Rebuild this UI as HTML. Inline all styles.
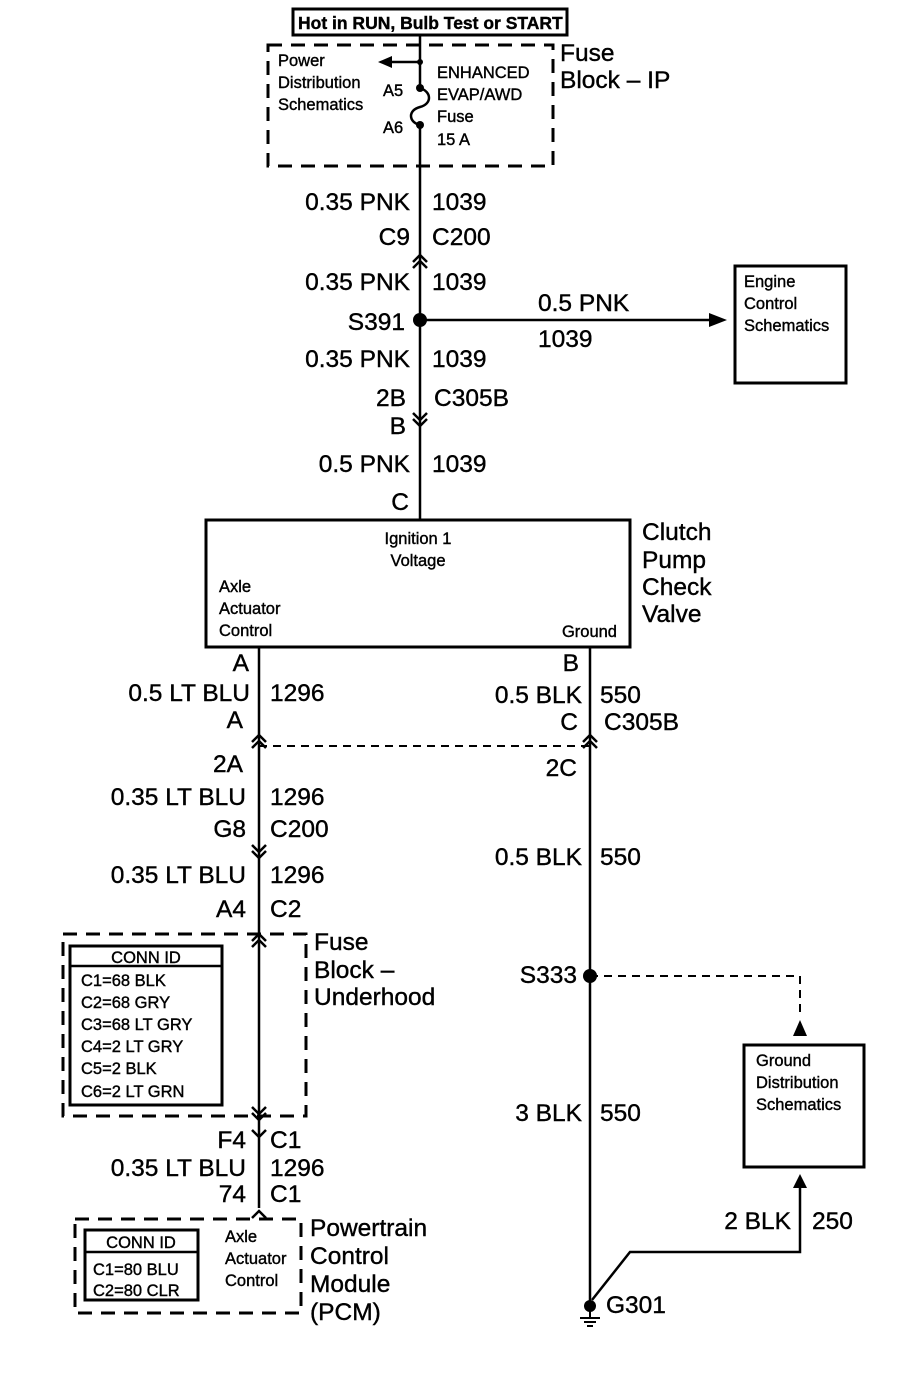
<!DOCTYPE html>
<html><head><meta charset="utf-8"><style>
html,body{margin:0;padding:0;background:#fff}
svg{display:block}
text{font-family:"Liberation Sans",sans-serif;fill:#000;stroke:#000;stroke-width:0.4}
.b{font-size:24.5px}
.s{font-size:16.5px}
.r{text-anchor:end}
</style></head><body>
<svg width="924" height="1376" viewBox="0 0 924 1376">
<g stroke="#000" stroke-width="2.5" fill="none">
<rect x="293" y="9" width="274" height="26" stroke-width="3"/>
<rect x="268" y="45" width="285" height="121" stroke-dasharray="14,9" stroke-width="3"/>
<path d="M420 35 V88 M420 125 V520"/>
<path d="M420 88 C432 92,432 104,420 107 C408 110,408 122,420 125"/>
<path d="M420 62 H388"/>
<path d="M413 262 L420 255 L427 262 M413 268 L420 261 L427 268"/>
<path d="M413 413 L420 420 L427 413 M413 419 L420 426 L427 419"/>
<path d="M420 320 H712"/>
<rect x="735" y="266" width="111" height="117" stroke-width="3"/>
<rect x="206" y="520" width="424" height="127" stroke-width="3"/>
<path d="M259 647 V1208"/>
<path d="M252 742 L259 735 L266 742 M252 748 L259 741 L266 748"/>
<path d="M252 845 L259 852 L266 845 M252 851 L259 858 L266 851"/>
<path d="M252 941 L259 934 L266 941 M252 947 L259 940 L266 947"/>
<path d="M252 1107 L259 1114 L266 1107 M252 1113 L259 1120 L266 1113"/>
<path d="M252 1130 L259 1137 L266 1130"/>
<path d="M252 1218 L259 1211 L266 1218"/>
<path d="M590 647 V1306"/>
<path d="M583 742 L590 735 L597 742 M583 748 L590 741 L597 748"/>
<path d="M259 746 H590" stroke-dasharray="8,6" stroke-width="2"/>
<path d="M590 976 H800 V1018" stroke-dasharray="8,6" stroke-width="2"/>
<rect x="744" y="1045" width="120" height="122" stroke-width="3"/>
<path d="M800 1186 V1252 H630 L592 1300"/>
<rect x="63" y="934" width="243" height="182" stroke-dasharray="14,9" stroke-width="3"/>
<rect x="70" y="946" width="152" height="159" stroke-width="3"/>
<path d="M70 966 H222"/>
<rect x="75" y="1219" width="226" height="94" stroke-dasharray="14,9" stroke-width="3"/>
<rect x="85" y="1230" width="113" height="70" stroke-width="3"/>
<path d="M85 1252 H198"/>
<path d="M590 1306 V1318 M580 1318 H600 M584 1322 H596 M587 1326 H593" stroke-width="2"/>
</g>
<g fill="#000">
<polygon points="378,62 392,56 392,68"/>
<circle cx="420" cy="62" r="3"/>
<circle cx="420" cy="88" r="4"/>
<circle cx="420" cy="125" r="4"/>
<circle cx="420" cy="320" r="7"/>
<polygon points="727,320 709,313 709,327"/>
<circle cx="590" cy="976" r="7"/>
<polygon points="800,1020 793,1036 807,1036"/>
<polygon points="800,1174 793,1188 807,1188"/>
<circle cx="590" cy="1306" r="6"/>
</g>
<text x="298" y="29" style="font-size:17.5px;font-weight:bold">Hot in RUN, Bulb Test or START</text>
<text x="278" y="66" class="s">Power</text>
<text x="278" y="88" class="s">Distribution</text>
<text x="278" y="110" class="s">Schematics</text>
<text x="383" y="96" class="s">A5</text>
<text x="383" y="133" class="s">A6</text>
<text x="437" y="78" class="s">ENHANCED</text>
<text x="437" y="100" class="s">EVAP/AWD</text>
<text x="437" y="122" class="s">Fuse</text>
<text x="437" y="145" class="s">15 A</text>
<text x="560" y="61" class="b">Fuse</text>
<text x="560" y="88" class="b">Block – IP</text>
<text x="410" y="210" class="b r">0.35 PNK</text><text x="432" y="210" class="b">1039</text>
<text x="410" y="245" class="b r">C9</text><text x="432" y="245" class="b">C200</text>
<text x="410" y="290" class="b r">0.35 PNK</text><text x="432" y="290" class="b">1039</text>
<text x="405" y="330" class="b r">S391</text>
<text x="538" y="311" class="b">0.5 PNK</text>
<text x="538" y="347" class="b">1039</text>
<text x="744" y="287" class="s">Engine</text>
<text x="744" y="309" class="s">Control</text>
<text x="744" y="331" class="s">Schematics</text>
<text x="410" y="367" class="b r">0.35 PNK</text><text x="432" y="367" class="b">1039</text>
<text x="406" y="406" class="b r">2B</text><text x="434" y="406" class="b">C305B</text>
<text x="406" y="434" class="b r">B</text>
<text x="410" y="472" class="b r">0.5 PNK</text><text x="432" y="472" class="b">1039</text>
<text x="409" y="510" class="b r">C</text>
<text x="418" y="544" class="s" text-anchor="middle">Ignition 1</text>
<text x="418" y="566" class="s" text-anchor="middle">Voltage</text>
<text x="219" y="592" class="s">Axle</text>
<text x="219" y="614" class="s">Actuator</text>
<text x="219" y="636" class="s">Control</text>
<text x="617" y="637" class="s r">Ground</text>
<text x="642" y="540" class="b">Clutch</text>
<text x="642" y="568" class="b">Pump</text>
<text x="642" y="595" class="b">Check</text>
<text x="642" y="622" class="b">Valve</text>
<text x="249" y="671" class="b r">A</text><text x="579" y="671" class="b r">B</text>
<text x="250" y="701" class="b r">0.5 LT BLU</text><text x="270" y="701" class="b">1296</text>
<text x="582" y="703" class="b r">0.5 BLK</text><text x="600" y="703" class="b">550</text>
<text x="243" y="728" class="b r">A</text>
<text x="578" y="730" class="b r">C</text><text x="604" y="730" class="b">C305B</text>
<text x="243" y="772" class="b r">2A</text>
<text x="577" y="776" class="b r">2C</text>
<text x="246" y="805" class="b r">0.35 LT BLU</text><text x="270" y="805" class="b">1296</text>
<text x="246" y="837" class="b r">G8</text><text x="270" y="837" class="b">C200</text>
<text x="582" y="865" class="b r">0.5 BLK</text><text x="600" y="865" class="b">550</text>
<text x="246" y="883" class="b r">0.35 LT BLU</text><text x="270" y="883" class="b">1296</text>
<text x="246" y="917" class="b r">A4</text><text x="270" y="917" class="b">C2</text>
<text x="314" y="950" class="b">Fuse</text>
<text x="314" y="978" class="b">Block –</text>
<text x="314" y="1005" class="b">Underhood</text>
<text x="146" y="963" class="s" text-anchor="middle">CONN ID</text>
<text x="81" y="986" class="s">C1=68 BLK</text>
<text x="81" y="1008" class="s">C2=68 GRY</text>
<text x="81" y="1030" class="s">C3=68 LT GRY</text>
<text x="81" y="1052" class="s">C4=2 LT GRY</text>
<text x="81" y="1074" class="s">C5=2 BLK</text>
<text x="81" y="1097" class="s">C6=2 LT GRN</text>
<text x="577" y="983" class="b r">S333</text>
<text x="756" y="1066" class="s">Ground</text>
<text x="756" y="1088" class="s">Distribution</text>
<text x="756" y="1110" class="s">Schematics</text>
<text x="582" y="1121" class="b r">3 BLK</text><text x="600" y="1121" class="b">550</text>
<text x="246" y="1148" class="b r">F4</text><text x="270" y="1148" class="b">C1</text>
<text x="246" y="1176" class="b r">0.35 LT BLU</text><text x="270" y="1176" class="b">1296</text>
<text x="246" y="1202" class="b r">74</text><text x="270" y="1202" class="b">C1</text>
<text x="791" y="1229" class="b r">2 BLK</text><text x="812" y="1229" class="b">250</text>
<text x="141" y="1248" class="s" text-anchor="middle">CONN ID</text>
<text x="93" y="1275" class="s">C1=80 BLU</text>
<text x="93" y="1296" class="s">C2=80 CLR</text>
<text x="225" y="1242" class="s">Axle</text>
<text x="225" y="1264" class="s">Actuator</text>
<text x="225" y="1286" class="s">Control</text>
<text x="310" y="1236" class="b">Powertrain</text>
<text x="310" y="1264" class="b">Control</text>
<text x="310" y="1292" class="b">Module</text>
<text x="310" y="1320" class="b">(PCM)</text>
<text x="606" y="1313" class="b">G301</text>
</svg>
</body></html>
